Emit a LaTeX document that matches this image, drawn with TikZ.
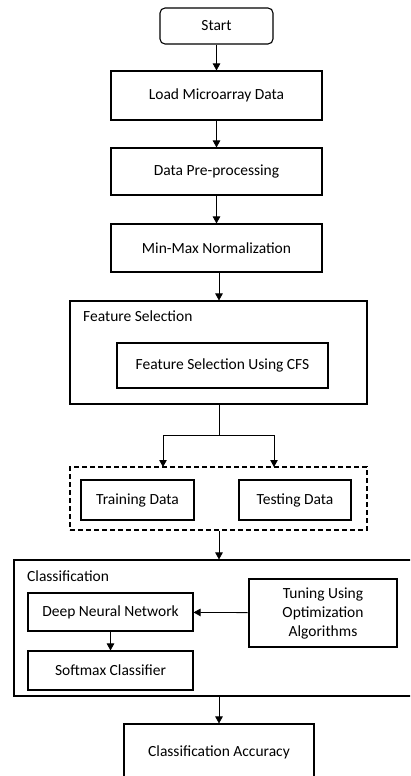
\documentclass[tikz,border=0pt]{standalone}
\usepackage{fontspec}
\setmainfont{Carlito}
\usetikzlibrary{arrows.meta}

\tikzset{
  box/.style={draw,line width=1.1pt,align=center,inner sep=0pt,
    font=\fontsize{15.5}{19}\selectfont},
  frame/.style={draw,line width=1.1pt,inner sep=0pt},
  lbl/.style={anchor=west,inner sep=0pt,font=\fontsize{15.5}{19}\selectfont},
  flow/.style={line width=0.8pt,-{Triangle[length=7pt,width=7.5pt]}}
}

\begin{document}
\begin{tikzpicture}[x=1pt,y=-1pt]
\clip (0,0) rectangle (410,776);
% main column
\node[box,rounded corners=5pt,minimum width=113pt,minimum height=36pt] (start) at (216.5,26) {Start};
\node[box,minimum width=211pt,minimum height=49pt] (load) at (216.5,95.5) {Load Microarray Data};
\node[box,minimum width=211pt,minimum height=47pt] (prep) at (216.5,171.5) {Data Pre-processing};
\node[box,minimum width=211pt,minimum height=48pt] (norm) at (216.5,248) {Min-Max Normalization};
% feature selection
\node[frame,minimum width=297pt,minimum height=103pt] (fsel) at (218.5,352.5) {};
\node[lbl] (fsellbl) at (83,316) {Feature Selection};
\node[box,minimum width=211pt,minimum height=45pt] (cfs) at (222.5,365.5) {Feature Selection Using CFS};
% data split
\node[frame,dash pattern=on 5pt off 3pt,minimum width=297pt,minimum height=63pt] (split) at (218.5,498.5) {};
\node[box,minimum width=113pt,minimum height=40pt] (train) at (137.5,500) {Training Data};
\node[box,minimum width=112pt,minimum height=40pt] (test) at (295,500) {Testing Data};
\coordinate (fork) at (219,435);
\coordinate (trainin) at (163,467);
\coordinate (testin) at (274,467);
% classification
\node[frame,minimum width=420pt,minimum height=136pt] (cls) at (224,628) {};
\node[lbl] (clslbl) at (27,576) {Classification};
\node[box,minimum width=165pt,minimum height=38pt] (dnn) at (110.5,612) {Deep Neural Network};
\node[box,minimum width=165pt,minimum height=39pt] (soft) at (110.5,670.5) {Softmax Classifier};
\node[box,minimum width=148pt,minimum height=68pt] (tune) at (323,613) {Tuning Using\\Optimization\\Algorithms};
\node[box,minimum width=190pt,minimum height=56pt] (acc) at (219,752) {Classification Accuracy};

\draw[flow] (start) -- (load);
\draw[flow] (load) -- (prep);
\draw[flow] (prep) -- (norm);
\draw[flow] (norm.south -| fork) -- (fsel.north -| fork);
\draw[line width=0.8pt] (fsel.south -| fork) -- (fork);
\draw[flow] (fork) -| (trainin);
\draw[flow] (fork) -| (testin);
\draw[flow] (split.south -| fork) -- (cls.north -| fork);
\draw[flow] (tune) -- (dnn);
\draw[flow] (dnn) -- (soft);
\draw[flow] (cls.south -| acc) -- (acc);
\end{tikzpicture}
\end{document}
